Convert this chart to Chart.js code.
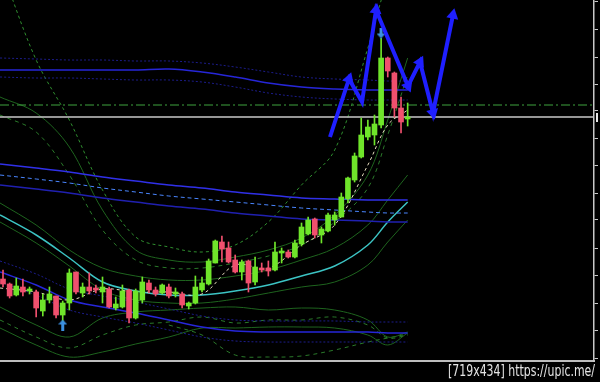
<!DOCTYPE html>
<html>
<head>
<meta charset="utf-8">
<script src="https://cdn.jsdelivr.net/npm/chart.js"></script>
<style>
  html, body { margin: 0; padding: 0; background: #000; }
  #wrap { width: 600px; height: 382px; }
</style>
</head>
<body>
<div id="wrap"><canvas id="grafico" width="600" height="382"></canvas></div>
<script>
// velas (en unidades del eje de precio)
const candleOpen  = [81,76,65,73,69,68,49,60,64,45,57,88,67,73,72,68,71,52,53,70,42,60,77,70,67,73,66,66,54,57,70,76,97,118,112,100,88,99,78,92,92,90,107,108,103,116,126,141,125,129,140,143,161,180,203,223,225,235,302,287,252,241];
const candleHigh  = [90,77,82,81,73,70,66,73,64,59,91,88,77,87,75,83,73,63,75,71,71,83,80,73,76,76,72,68,58,84,83,101,120,124,118,105,100,100,103,97,99,118,112,110,120,137,143,142,133,147,148,167,183,207,242,240,245,322,303,288,263,257];
const candleLow   = [73,62,64,64,66,43,44,57,42,38,50,66,63,66,67,57,52,50,52,37,41,57,67,64,66,62,63,52,51,56,68,75,97,98,97,87,80,68,75,88,84,89,97,102,102,114,125,122,117,128,135,143,157,178,202,220,215,232,283,243,227,234];
const candleClose = [76,64,74,68,71,52,60,66,45,57,87,68,73,69,70,73,53,56,69,42,69,78,70,66,75,64,68,55,57,73,77,99,119,111,98,88,98,77,93,90,89,108,108,103,117,133,140,125,131,145,145,163,182,204,225,233,236,302,289,252,238,243];

// posiciones (índice de vela) donde se leen los indicadores
const bandX = [-0.45, 5, 10, 15, 20, 25, 30, 35, 40, 45, 50, 55, 58, 61];

const upperBlueMid = [290,290,290,290,290,291,288,283,277,273,271,270,270,270];
const upperBlueTop = [302,301,300,300,299,299,297,293,288,283,281,280,279,279];
const upperBlueBot = [283,282,282,281,280,280,278,273,267,263,261,260,260,260];
const midBlueTop   = [196,192,188,183,179,175,172,168,165,162,161,160,160,160];
const midBlueDash  = [185,181,177,172,168,164,161,158,155,152,150,148,147,147];
const midBlueBot   = [175,171,167,162,158,154,151,147,144,141,140,139,138,138];
const lowBlueMid   = [88,75,60,53,47,40,33,29,28,28,28,28,27,27];
const lowBlueTop   = [99,86,71,64,58,51,44,40,39,39,39,38,38,38];
const lowBlueBot   = [78,65,50,43,37,30,23,19,18,18,18,18,18,18];
const cyanMA       = [145,125,102,78,69,65,65,69,75,84,94,115,138,158];
const envUp        = [157,135,110,92,84,80,80,84,90,100,112,135,160,185];
const envDn        = [138,117,94,70,60,57,57,61,67,73,78,95,118,140];
const bandOuter    = [395,300,240,170,123,113,108,115,138,175,210,312,380,420];
const bandUpSolid  = [263,247,213,150,110,100,98,103,110,122,145,185,240,302];
const bandUpDash   = [245,228,185,130,100,92,92,97,104,115,138,172,225,285];
const bandLow1     = [53,35,23,42,48,50,52,53,50,52,50,40,23,28];
const bandLow2     = [40,23,12,25,35,38,43,37,40,40,43,35,22,25];
const bandLow3     = [32,15,3,8,16,23,32,32,33,33,32,25,15,27];
const bandLow4     = [null,null,null,null,null,35,25,5,3,4,10,18,22,26];
const fastMA       = [72,68,60,71,68,68,66,95,92,115,135,195,235,250];

// flechas azules dibujadas a mano
const arrowX = [49.29, 52.16, 54.12, 56.23, 61.05, 62.86, 64.82, 67.83];
const arrowY = [223, 281, 258, 350, 274, 298, 247, 345];
const arrowHead = [0, 1, 0, 1, 1, 1, 1, 1];

// señales
const signalX = [9, 57];
const signalY = [35, 327];
const signalDir = [0, 180];

// niveles
const bidLevel = 243;
const dashLevel = 255;
const yTicks = [2, 30, 57, 85, 112, 140, 167, 195, 222, 249, 276, 303, 331, 358];

const X_MIN = -0.452, X_MAX = 89.09;

const UP = "#6fe52a";
const DOWN = "#f0506e";

const band = (vals) => bandX.map((x, i) => ({ x: x, y: vals[i] }));

function linea(vals, color, opts) {
  return Object.assign({
    type: "line",
    data: band(vals),
    borderColor: color,
    borderWidth: 1,
    pointRadius: 0,
    tension: 0.35,
    fill: false,
    order: 6
  }, opts || {});
}

function nivel(value, color, opts) {
  return Object.assign({
    type: "line",
    data: [{ x: X_MIN, y: value }, { x: X_MAX, y: value }],
    borderColor: color,
    borderWidth: 1,
    pointRadius: 0,
    order: 5
  }, opts || {});
}

// flecha pequeña para las señales
const flecha = document.createElement("canvas");
flecha.width = 9; flecha.height = 11;
(function () {
  const c = flecha.getContext("2d");
  c.fillStyle = "#3b8fe0";
  c.beginPath(); c.moveTo(0, 5); c.lineTo(4.5, 0); c.lineTo(9, 5); c.closePath(); c.fill();
  c.fillRect(3, 5, 3, 6);
})();

const colorVela = (c) => candleClose[c.dataIndex] >= candleOpen[c.dataIndex] ? UP : DOWN;

const fondo = {
  id: "fondo",
  beforeDraw(chart) {
    const ctx = chart.ctx;
    ctx.save();
    ctx.fillStyle = "#000";
    ctx.fillRect(0, 0, chart.width, chart.height);
    ctx.restore();
  },
  afterDraw(chart) {
    const ctx = chart.ctx;
    const y = chart.scales.y.getPixelForValue(bidLevel);
    ctx.save();
    ctx.fillStyle = "#e8e8e8";
    ctx.fillRect(chart.chartArea.right + 2, y - 4, 2, 9);
    // marca de agua
    const txt = "[719x434] https://upic.me/";
    ctx.font = '15px "DejaVu Sans Condensed", "Liberation Sans", sans-serif';
    ctx.textBaseline = "middle";
    const w = ctx.measureText(txt).width;
    ctx.translate(448, 372);
    ctx.scale(147 / w, 1);
    ctx.fillStyle = "#e4e4e4";
    ctx.fillText(txt, 0, 0);
    ctx.restore();
  }
};

const ctx = document.getElementById("grafico").getContext("2d");

new Chart(ctx, {
  type: "bar",
  data: {
    datasets: [
      {
        type: "line",
        data: arrowX.map((x, i) => ({ x: x, y: arrowY[i] })),
        borderColor: "#1f1fff",
        borderWidth: 4,
        tension: 0,
        pointStyle: "triangle",
        pointRadius: arrowHead.map(h => h ? 7 : 0),
        pointBackgroundColor: "#1f1fff",
        pointBorderColor: "#1f1fff",
        pointBorderWidth: 0,
        pointRotation: (c) => {
          const i = c.dataIndex;
          if (!i) return 0;
          const d = c.dataset.data, xs = c.chart.scales.x, ys = c.chart.scales.y;
          const dx = xs.getPixelForValue(d[i].x) - xs.getPixelForValue(d[i - 1].x);
          const dy = ys.getPixelForValue(d[i].y) - ys.getPixelForValue(d[i - 1].y);
          return Math.atan2(dx, -dy) * 180 / Math.PI;
        },
        order: 0
      },
      {
        type: "scatter",
        data: signalX.map((x, i) => ({ x: x, y: signalY[i] })),
        pointStyle: flecha,
        pointRotation: signalDir,
        order: 1
      },
      {
        data: candleOpen.map((o, i) => ({ x: i, y: [o, candleClose[i]] })),
        backgroundColor: colorVela,
        barThickness: 5,
        minBarLength: 2,
        grouped: false,
        order: 2
      },
      {
        data: candleLow.map((l, i) => ({ x: i, y: [l, candleHigh[i]] })),
        backgroundColor: colorVela,
        barThickness: 1,
        grouped: false,
        order: 3
      },
      nivel(bidLevel, "#c8c8c8", { borderWidth: 1.5 }),
      nivel(dashLevel, "#3fa33f", { borderDash: [9, 3, 2, 3] }),
      linea(fastMA, "#e8dfc0", { borderDash: [3, 3], order: 4 }),
      linea(upperBlueMid, "#2626d8", { borderWidth: 1.5 }),
      linea(upperBlueTop, "#1c1c8a", { borderDash: [2, 2] }),
      linea(upperBlueBot, "#1c1c8a", { borderDash: [2, 2] }),
      linea(midBlueTop, "#3030e8", { borderWidth: 1.5 }),
      linea(midBlueDash, "#4a86ff", { borderDash: [4, 3] }),
      linea(midBlueBot, "#2020b0", { borderWidth: 1.5 }),
      linea(lowBlueMid, "#2626d8", { borderWidth: 1.5 }),
      linea(lowBlueTop, "#1c1c8a", { borderDash: [2, 2] }),
      linea(lowBlueBot, "#1c1c8a", { borderDash: [2, 2] }),
      linea(cyanMA, "#3cc4c4", { borderWidth: 1.5 }),
      linea(envUp, "#1e641e"),
      linea(envDn, "#1e641e"),
      linea(bandOuter, "#2f8f2f", { borderDash: [3, 3] }),
      linea(bandUpSolid, "#1e641e"),
      linea(bandUpDash, "#2a7a2a", { borderDash: [4, 4] }),
      linea(bandLow1, "#1e641e"),
      linea(bandLow2, "#2a7a2a", { borderDash: [4, 4] }),
      linea(bandLow3, "#1e641e"),
      linea(bandLow4, "#2a7a2a", { borderDash: [4, 4] })
    ]
  },
  options: {
    responsive: false,
    animation: false,
    devicePixelRatio: 1,
    layout: { autoPadding: false, padding: { top: 0, left: 0, right: 2, bottom: 21 } },
    plugins: { legend: { display: false }, tooltip: { enabled: false } },
    scales: {
      x: {
        type: "linear",
        min: X_MIN,
        max: X_MAX,
        offset: false,
        ticks: { display: false },
        grid: { display: true, drawOnChartArea: false, drawTicks: false },
        border: { display: true, color: "#bdbdbd", width: 2 }
      },
      y: {
        type: "linear",
        position: "right",
        min: -1,
        max: 360,
        afterBuildTicks: (s) => { s.ticks = yTicks.map(v => ({ value: v })); },
        ticks: { display: false },
        grid: { display: true, drawOnChartArea: false, drawTicks: true, tickLength: 4, color: "#c8c8c8" },
        border: { display: true, color: "#c8c8c8", width: 1.5 }
      }
    }
  },
  plugins: [fondo]
});
</script>
</body>
</html>
